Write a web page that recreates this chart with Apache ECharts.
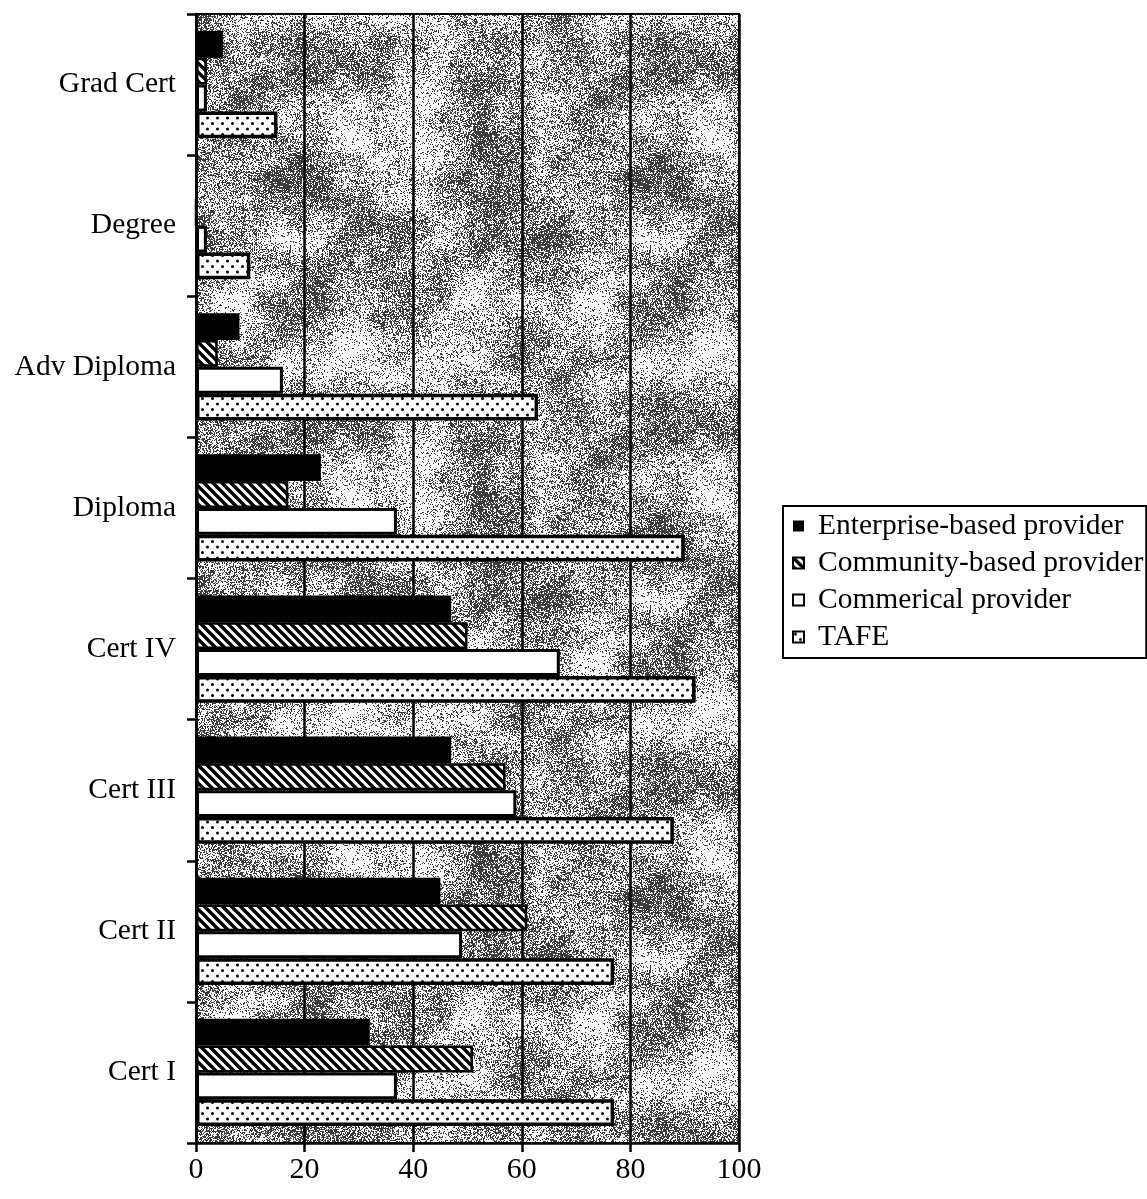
<!DOCTYPE html>
<html>
<head>
<meta charset="utf-8">
<title>Qualification level by provider type</title>
<script src="https://cdn.jsdelivr.net/npm/echarts@6/dist/echarts.min.js"></script>
<style>
  html, body { margin: 0; padding: 0; background: #fff; }
  #chart { width: 1147px; height: 1199px; }
</style>
</head>
<body>
<div id="chart"></div>
<script>
// Qualification levels, listed top to bottom
const categories = ['Grad Cert', 'Degree', 'Adv Diploma', 'Diploma', 'Cert IV', 'Cert III', 'Cert II', 'Cert I'];

// Percentage of providers offering each level
const enterprise = [5, 0, 8, 23, 47, 47, 45, 32];
const community  = [2, 0, 4, 17, 50, 57, 61, 51];
const commercial = [2, 2, 16, 37, 67, 59, 49, 37];
const tafe       = [15, 10, 63, 90, 92, 88, 77, 77];

const seriesNames = ['Enterprise-based provider', 'Community-based provider', 'Commerical provider', 'TAFE'];
const xTicks = [0, 20, 40, 60, 80, 100];

const FONT = '"Liberation Serif", "Times New Roman", serif';

// Deterministic hash used for the stippled plot-area texture
function hash(x, y, s) {
  let h = (Math.imul(x, 374761393) + Math.imul(y, 668265263) + Math.imul(s, 1442695041)) | 0;
  h = Math.imul(h ^ (h >>> 13), 1274126177);
  h ^= h >>> 16;
  return (h >>> 0) / 4294967296;
}

function smoothNoise(px, py, cell, period, seed) {
  const gx = px / cell, gy = py / cell;
  const x0 = Math.floor(gx), y0 = Math.floor(gy);
  const fx = gx - x0, fy = gy - y0;
  const sx = fx * fx * (3 - 2 * fx), sy = fy * fy * (3 - 2 * fy);
  const w = (i) => ((i % period) + period) % period;
  const a = hash(w(x0), w(y0), seed), b = hash(w(x0 + 1), w(y0), seed);
  const c = hash(w(x0), w(y0 + 1), seed), d = hash(w(x0 + 1), w(y0 + 1), seed);
  const top = a + (b - a) * sx, bottom = c + (d - c) * sx;
  return top + (bottom - top) * sy;
}

function makeTexture() {
  const size = 360;
  const cv = document.createElement('canvas');
  cv.width = size; cv.height = size;
  const ctx = cv.getContext('2d');
  const img = ctx.createImageData(size, size);
  for (let y = 0; y < size; y++) {
    for (let x = 0; x < size; x++) {
      const n = 0.6 * smoothNoise(x, y, 60, size / 60, 7) + 0.4 * smoothNoise(x, y, 20, size / 20, 11);
      const p = Math.min(0.8, Math.max(0.08, 0.45 + 1.1 * (n - 0.5)));
      const dark = hash(x, y, 3) < p;
      const v = dark ? 60 : 248;
      const i = (y * size + x) * 4;
      img.data[i] = img.data[i + 1] = img.data[i + 2] = v;
      img.data[i + 3] = 255;
    }
  }
  ctx.putImageData(img, 0, 0);
  return cv;
}

// Diagonal stripes running top-left to bottom-right
function makeHatch() {
  const s = 9;
  const cv = document.createElement('canvas');
  cv.width = s; cv.height = s;
  const ctx = cv.getContext('2d');
  ctx.fillStyle = '#fff';
  ctx.fillRect(0, 0, s, s);
  ctx.strokeStyle = '#000';
  ctx.lineWidth = 3.4;
  ctx.beginPath();
  for (let k = -1; k <= 1; k++) {
    ctx.moveTo(k * s - 2, -2);
    ctx.lineTo(k * s + s + 2, s + 2);
  }
  ctx.stroke();
  return cv;
}

// Staggered dot grid
function makeDots() {
  const w = 10, h = 11;
  const cv = document.createElement('canvas');
  cv.width = w; cv.height = h;
  const ctx = cv.getContext('2d');
  ctx.fillStyle = '#fff';
  ctx.fillRect(0, 0, w, h);
  ctx.fillStyle = '#000';
  ctx.beginPath();
  ctx.arc(2.5, 2.5, 1.5, 0, Math.PI * 2);
  ctx.arc(7.5, 8, 1.5, 0, Math.PI * 2);
  ctx.fill();
  return cv;
}

const texture = { image: makeTexture(), repeat: 'repeat' };
const hatch = { image: makeHatch(), repeat: 'repeat' };
const dots = { image: makeDots(), repeat: 'repeat' };

const chart = echarts.init(document.getElementById('chart'), null, { renderer: 'canvas' });

const styles = [
  { color: '#000', borderColor: '#000', borderWidth: 0 },
  { color: hatch, borderColor: '#000', borderWidth: 2.5 },
  { color: '#fff', borderColor: '#000', borderWidth: 3 },
  { color: dots, borderColor: '#000', borderWidth: 3.5 }
];
const values = [enterprise, community, commercial, tafe];

const option = {
  animation: false,
  backgroundColor: '#fff',
  grid: {
    left: 196, right: 408, top: 14, bottom: 56,
    show: true,
    backgroundColor: texture,
    borderColor: '#000',
    borderWidth: 2
  },
  legend: {
    orient: 'vertical',
    left: 783, top: 506,
    padding: [5, 3, 6, 9],
    itemWidth: 11, itemHeight: 11,
    itemGap: 7,
    backgroundColor: '#fff',
    borderColor: '#000',
    borderWidth: 2,
    borderRadius: 0,
    icon: 'rect',
    textStyle: { fontFamily: FONT, fontSize: 29.5, color: '#000', lineHeight: 30, padding: [0, 0, 0, 9] },
    data: seriesNames.map((n, i) => ({ name: n, itemStyle: { borderWidth: i === 0 ? 0 : 2 } }))
  },
  xAxis: {
    type: 'value',
    min: 0, max: 100, interval: 20,
    axisLine: { show: true, lineStyle: { color: '#000', width: 2.5 } },
    axisTick: { show: true, length: 9, lineStyle: { color: '#000', width: 2.5 } },
    axisLabel: {
      fontFamily: FONT, fontSize: 30, color: '#000', margin: 12,
      formatter: (v) => xTicks.indexOf(v) >= 0 ? String(v) : ''
    },
    splitLine: { show: true, lineStyle: { color: '#000', width: 2.5 } }
  },
  yAxis: {
    type: 'category',
    inverse: true,
    data: categories,
    axisLine: { show: true, lineStyle: { color: '#000', width: 2.5 } },
    axisTick: { show: true, length: 9, lineStyle: { color: '#000', width: 2.5 } },
    axisLabel: { fontFamily: FONT, fontSize: 29.5, color: '#000', margin: 20 },
    splitLine: { show: false }
  },
  series: seriesNames.map((name, i) => ({
    name: name,
    type: 'bar',
    data: values[i],
    barGap: '0%',
    barCategoryGap: '24%',
    itemStyle: styles[i]
  }))
};

chart.setOption(option);
</script>
</body>
</html>
